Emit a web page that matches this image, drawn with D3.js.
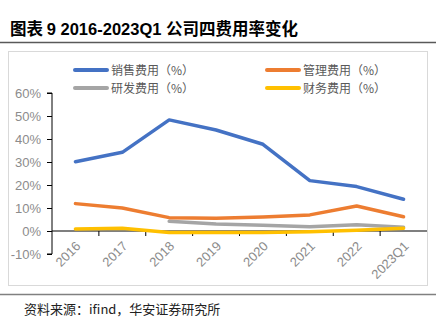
<!DOCTYPE html>
<html><head><meta charset="utf-8">
<script src="https://cdn.jsdelivr.net/npm/d3@7"></script>
<style>
body{margin:0;background:#fff;}
svg{display:block;}
</style></head>
<body><svg id="c" width="444" height="335"></svg>
<script>
const categories = ["2016","2017","2018","2019","2020","2021","2022","2023Q1"];
const salesRate = [30.1, 34.2, 48.3, 43.9, 37.7, 21.9, 19.3, 13.8];
const mgmtRate  = [11.9, 10.0, 5.8, 5.5, 6.1, 7.0, 10.9, 6.2];
const rdRate    = [null, null, 4.2, 3.0, 2.5, 1.9, 2.7, 1.6];
const finRate   = [0.9, 1.2, -0.7, -0.7, -0.6, -0.3, 0.3, 1.2];
const yTicks = [-10, 0, 10, 20, 30, 40, 50, 60];
const seriesNames = ["销售费用（%）","管理费用（%）","研发费用（%）","财务费用（%）"];
const seriesColors = ["#4472c4","#ed7d31","#a5a5a5","#ffc000"];
const seriesData = [salesRate, mgmtRate, rdRate, finRate];

const svg = d3.select("#c");
const cjk = "'Noto Sans CJK SC','Noto Sans',sans-serif";
const latin = "'Liberation Sans',Arial,sans-serif";

// title
const t = svg.append("text").attr("x",10).attr("y",35).attr("font-size",16.5).attr("font-weight","bold").attr("fill","#000");
t.append("tspan").attr("font-family",cjk).text("图表 ");
t.append("tspan").attr("font-family",latin).text("9 2016-2023Q1 ");
t.append("tspan").attr("font-family",cjk).text("公司四费用率变化");
svg.append("line").attr("x1",0).attr("x2",436).attr("y1",42.5).attr("y2",42.5).attr("stroke","#595959").attr("stroke-width",1.5);

// frame
svg.append("rect").attr("x",8.5).attr("y",51.5).attr("width",419).attr("height",234).attr("fill","none").attr("stroke","#d9d9d9").attr("stroke-width",1);

const x = d3.scaleBand().domain(categories).range([52, 427]);
const y = d3.scaleLinear().domain([-10, 60]).range([254, 93]);

// y axis
const ya = svg.append("g").attr("transform","translate(52,0)")
  .call(d3.axisLeft(y).tickValues(yTicks).tickSize(5).tickFormat(d=>d+"%"));
ya.select(".domain").attr("stroke","#000").attr("d","M-5,"+y(60)+"H0V"+y(-10)+"H-5");
ya.selectAll(".tick line").attr("stroke","#000");
ya.selectAll(".tick text").attr("font-family",latin).attr("font-size",13).attr("fill","#8c8c8c").attr("x",-11);

// x axis at 0
const xa = svg.append("g").attr("transform","translate(0,"+y(0)+")");
xa.append("line").attr("x1",52).attr("x2",427).attr("stroke","#000").attr("stroke-width",1.2);
xa.selectAll("line.tk").data(categories.slice(1)).join("line").attr("class","tk")
  .attr("x1",d=>x(d)).attr("x2",d=>x(d)).attr("y1",0).attr("y2",5).attr("stroke","#000");
svg.selectAll("text.xl").data(categories).join("text").attr("class","xl")
  .attr("transform",d=>"translate("+(x(d)+x.bandwidth()/2+6)+","+(y(-10)-7)+") rotate(-45)")
  .attr("text-anchor","end").attr("font-family",latin).attr("font-size",13).attr("fill","#8c8c8c")
  .text(d=>d);

// lines
const line = d3.line().defined(d=>d[1]!=null).x(d=>x(d[0])+x.bandwidth()/2).y(d=>y(d[1]));
const order = [2,1,3,0];
order.forEach(i=>{
  svg.append("path").datum(categories.map((c,j)=>[c,seriesData[i][j]]))
    .attr("d",line).attr("fill","none").attr("stroke",seriesColors[i]).attr("stroke-width",3.5)
    .attr("stroke-linejoin","round").attr("stroke-linecap","round");
});

// legend
const legPos = [[75,70],[267,70],[75,88],[267,88]];
seriesNames.forEach((n,i)=>{
  const [lx,ly]=legPos[i];
  svg.append("line").attr("x1",lx).attr("x2",lx+32).attr("y1",ly).attr("y2",ly)
    .attr("stroke",seriesColors[i]).attr("stroke-width",4).attr("stroke-linecap","round");
  svg.append("text").attr("x",lx+36).attr("y",ly+4.5).attr("font-family",cjk).attr("font-size",12)
    .attr("fill","#595959").text(n);
});

// source
svg.append("line").attr("x1",0).attr("x2",436).attr("y1",294.5).attr("y2",294.5).attr("stroke","#808080").attr("stroke-width",1.5);
svg.append("text").attr("x",24).attr("y",314).attr("font-family",cjk).attr("font-size",13).attr("fill","#222")
  .text("资料来源：ifind，华安证券研究所");
</script></body></html>
